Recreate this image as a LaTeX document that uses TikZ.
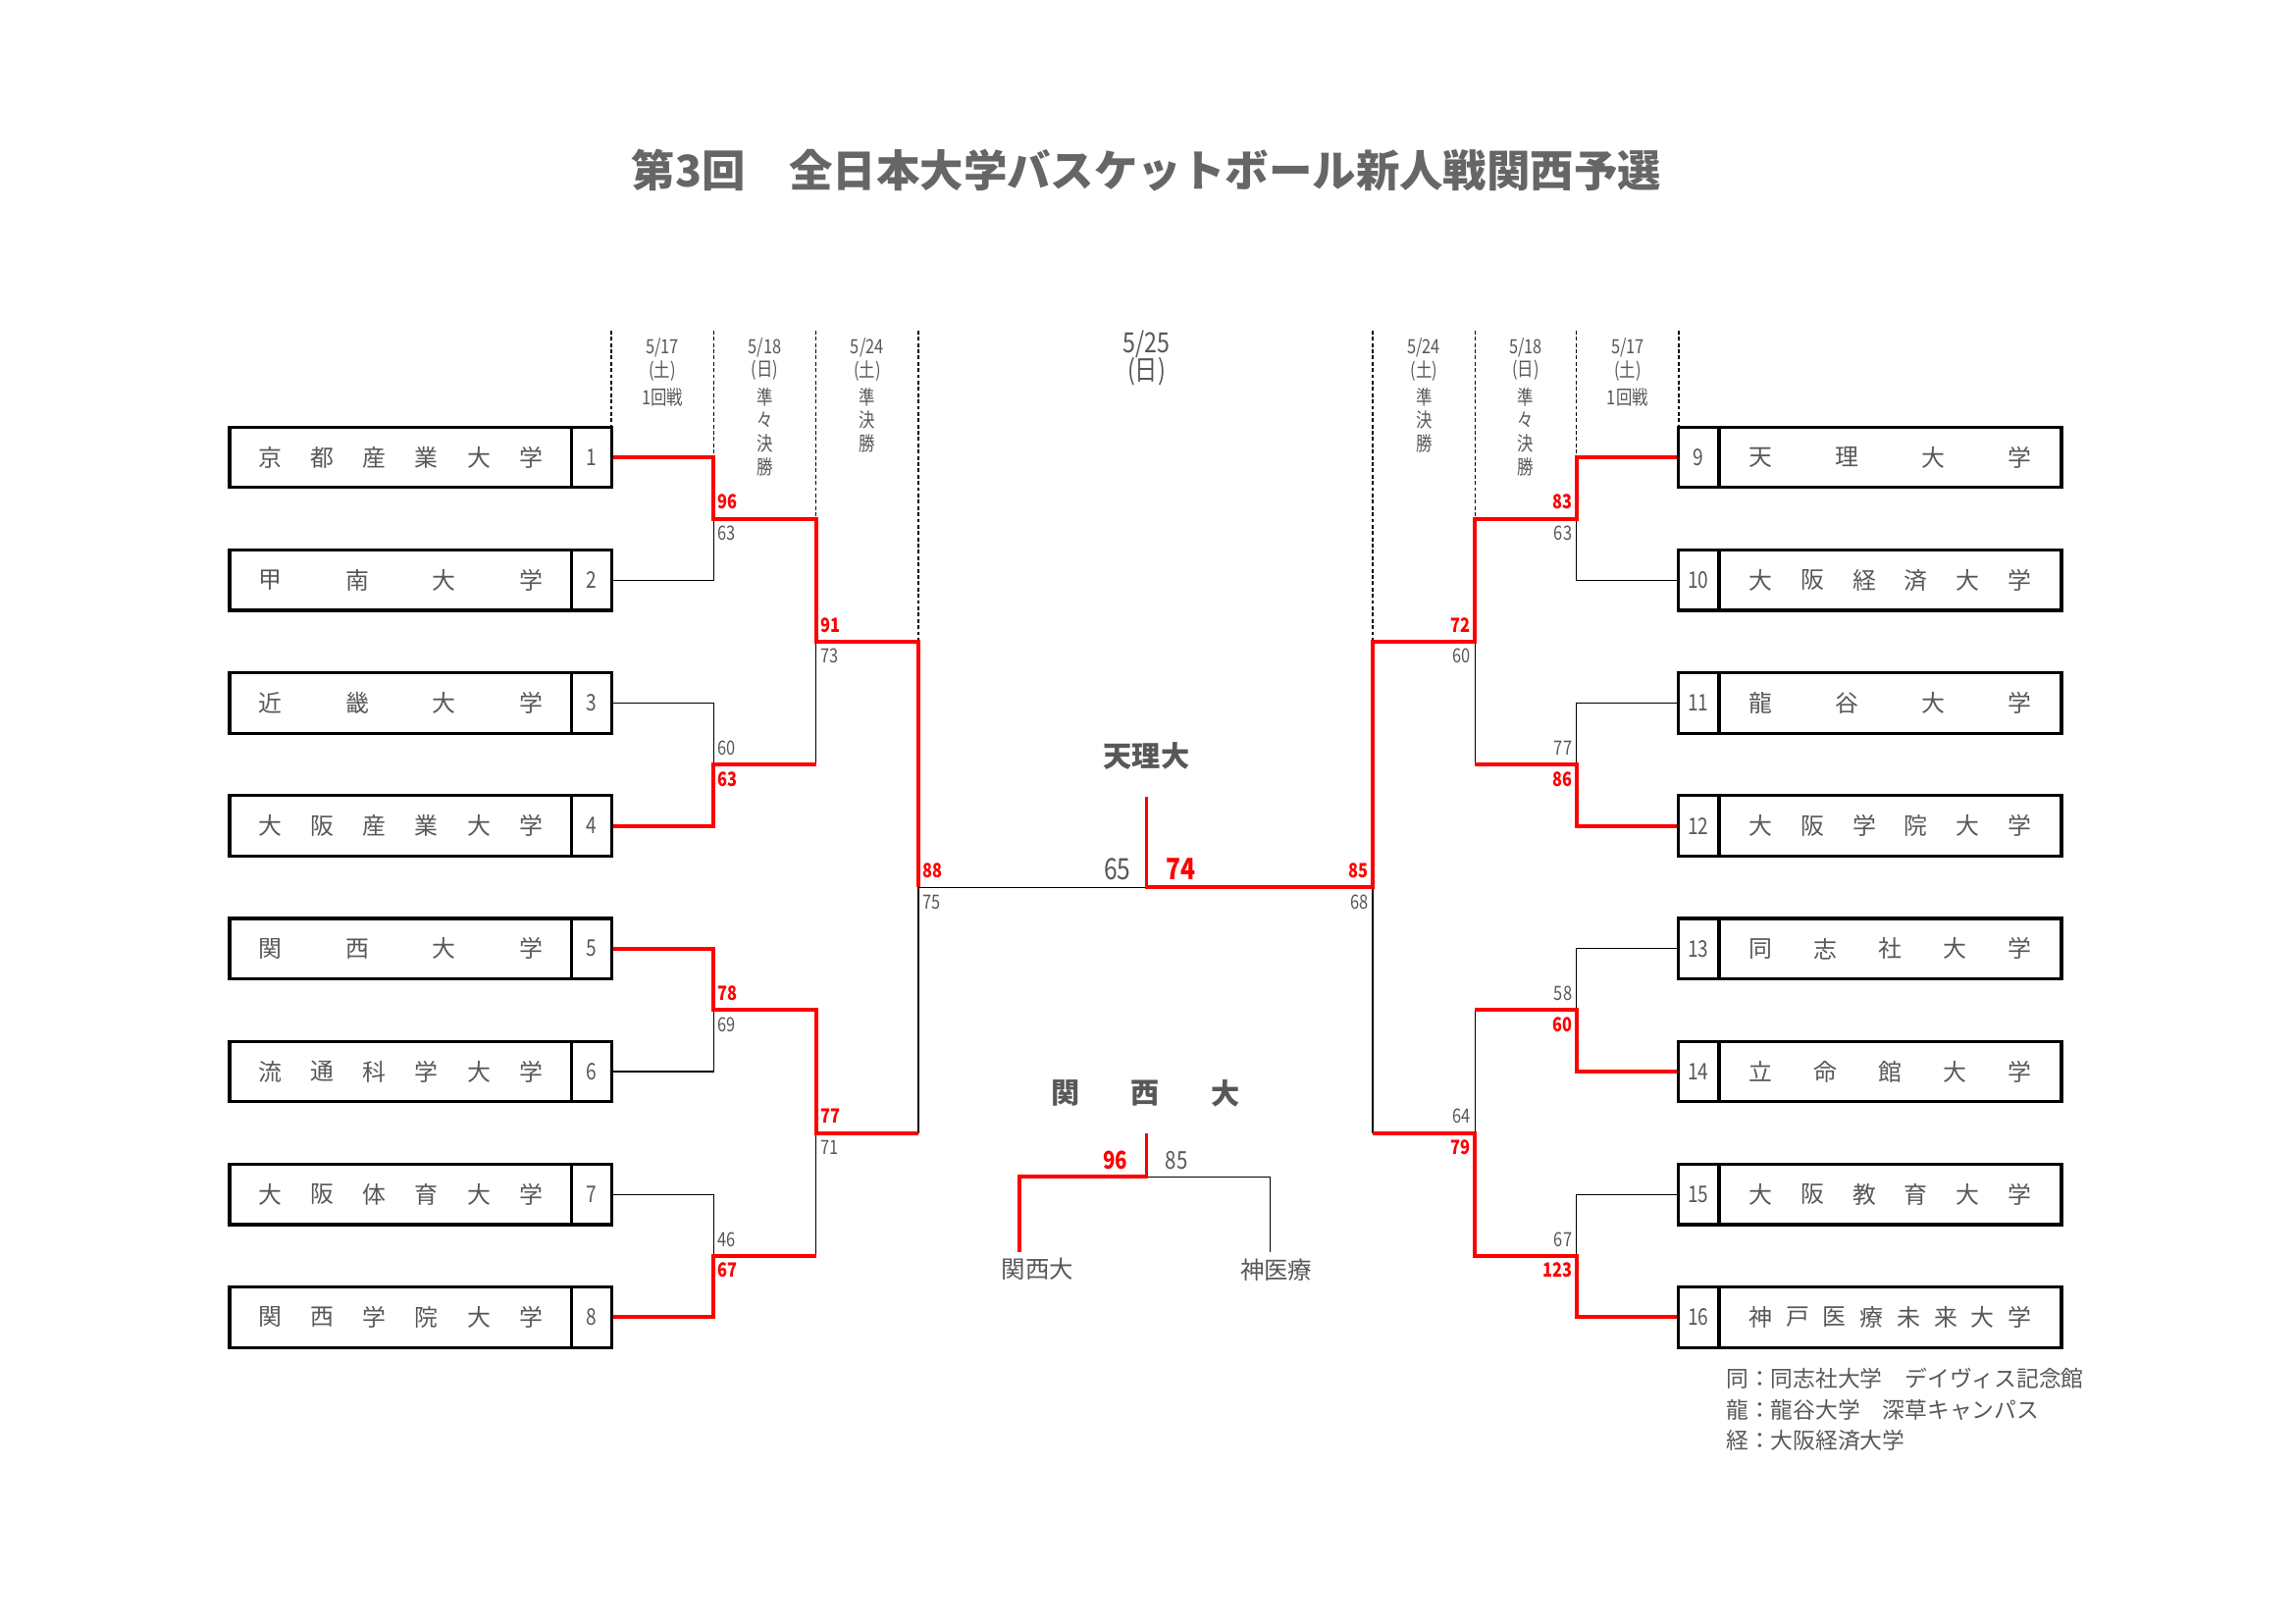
\documentclass[tikz,border=0pt]{standalone}
\usepackage{fontspec}
\setmainfont{Noto Sans CJK JP}
\newfontfamily\nar[FakeStretch=0.82]{Noto Sans CJK JP}
\definecolor{tgray}{RGB}{88,88,88}
\definecolor{ttl}{RGB}{102,102,102}
\definecolor{wred}{RGB}{255,0,0}
\tikzset{
  namebox/.style={draw, line width=1.15pt, minimum width=351*0.3577pt, minimum height=62*0.3577pt, inner sep=0pt},
  numbox/.style={draw, line width=1.15pt, minimum width=41*0.3577pt, minimum height=62*0.3577pt, inner sep=0pt, text=tgray, font=\nar\fontsize{8.4}{9}\selectfont},
  tname/.style={inner sep=0pt, text=tgray, font=\fontsize{8.6}{10}\selectfont},
  win/.style={draw=wred, line width=1.4pt},
  lose/.style={draw=black, line width=0.45pt},
  colline/.style={draw=black, line width=0.45pt, dash pattern=on 1.4pt off 0.9pt},
  hdr/.style={inner sep=0pt, text=tgray, font=\nar\fontsize{7.2}{8}\selectfont},
  sc/.style={inner sep=0pt, text=tgray, font=\nar\fontsize{7.2}{8}\selectfont},
  scw/.style={inner sep=0pt, text=wred, font=\nar\bfseries\fontsize{7.2}{8}\selectfont},
  title/.style={inner sep=0pt, text=ttl, font=\bfseries\fontsize{16}{18}\selectfont},
  big/.style={inner sep=0pt, text=tgray, font=\bfseries\fontsize{10.5}{12}\selectfont},
  note/.style={inner sep=0pt, text=tgray, anchor=west, font=\fontsize{8.2}{10}\selectfont},
}
\newcommand\spreadnames[6]{%
  \foreach \ch [count=\i] in #6 {%
    \node[tname] (#1c\i) at ({#2+(\i-1)*(#3-#2)/(#5-1)}, #4) {\ch};
  }%
}
\begin{document}
\begin{tikzpicture}[x=0.3577pt,y=-0.3577pt]
\useasboundingbox (0,0) rectangle (2354,1664.6);
\fill[white] (0,0) rectangle (2354,1664.6);

% title
\node[title] (title) at (1176,175) {第3回　全日本大学バスケットボール新人戦関西予選};

% ---------- left boxes ----------
\foreach \k/\n/\names [count=\r] in {1/6/{京,都,産,業,大,学},2/4/{甲,南,大,学},3/4/{近,畿,大,学},4/6/{大,阪,産,業,大,学},5/4/{関,西,大,学},6/6/{流,通,科,学,大,学},7/6/{大,阪,体,育,大,学},8/6/{関,西,学,院,大,学}} {
  \pgfmathsetmacro\yy{469+126*(\r-1)}
  \node[namebox] (L\k) at (411,\yy) {};
  \node[numbox] (N\k) at (607,\yy) {\k};
  \spreadnames{L\k}{277.5}{544.5}{\yy}{\n}{\names}
}
% ---------- right boxes ----------
\foreach \k/\n/\names [count=\r] in {9/4/{天,理,大,学},10/6/{大,阪,経,済,大,学},11/4/{龍,谷,大,学},12/6/{大,阪,学,院,大,学},13/5/{同,志,社,大,学},14/5/{立,命,館,大,学},15/6/{大,阪,教,育,大,学},16/8/{神,戸,医,療,未,来,大,学}} {
  \pgfmathsetmacro\yy{469+126*(\r-1)}
  \node[namebox] (R\k) at (1939,\yy) {};
  \node[numbox] (N\k) at (1742,\yy) {\k};
  \spreadnames{R\k}{1806}{2071.5}{\yy}{\n}{\names}
}

% ---------- match points ----------
\coordinate (m1) at (732,532);  \coordinate (m2) at (732,784);
\coordinate (m3) at (732,1036); \coordinate (m4) at (732,1288);
\coordinate (q1) at (837,658);  \coordinate (q2) at (837,1162);
\coordinate (s1) at (942,910);
\coordinate (m5) at (1617,532); \coordinate (m6) at (1617,784);
\coordinate (m7) at (1617,1036);\coordinate (m8) at (1617,1288);
\coordinate (q3) at (1513,658); \coordinate (q4) at (1513,1162);
\coordinate (s2) at (1408,910);
\coordinate (f) at (1176,910);
\coordinate (ftop) at (1176,817);

% ---------- column separators ----------
\coordinate (d1) at (627,339); \coordinate (d2) at (732,339);
\coordinate (d3) at (837,339); \coordinate (d4) at (942,339);
\coordinate (d5) at (1408,339); \coordinate (d6) at (1513,339);
\coordinate (d7) at (1617,339); \coordinate (d8) at (1722,339);
\draw[colline] (d1) -- (d1 |- N1.north);
\draw[colline] (d2) -- (d2 |- N1.east);
\draw[colline] (d3) -- (d3 |- m1);
\draw[colline] (d4) -- (d4 |- q1);
\draw[colline] (d5) -- (d5 |- q3);
\draw[colline] (d6) -- (d6 |- m5);
\draw[colline] (d7) -- (d7 |- N9.west);
\draw[colline] (d8) -- (d8 |- N9.north);

% ---------- column headers ----------
\node[hdr] (h1a) at (679.5,357) {5/17};
\node[hdr] (h1b) at (679.5,380) {(土)};
\node[hdr] (h1c) at (679.5,408) {1回戦};
\node[hdr] (h2a) at (784.5,357) {5/18};
\node[hdr] (h2b) at (784.5,380) {(日)};
\node[hdr] (h2c) at (784.5,407) {準};
\node[hdr] (h2d) at (784.5,431) {々};
\node[hdr] (h2e) at (784.5,455) {決};
\node[hdr] (h2f) at (784.5,479) {勝};
\node[hdr] (h3a) at (889.5,357) {5/24};
\node[hdr] (h3b) at (889.5,380) {(土)};
\node[hdr] (h3c) at (889.5,407) {準};
\node[hdr] (h3d) at (889.5,431) {決};
\node[hdr] (h3e) at (889.5,455) {勝};
\node[hdr, font=\nar\fontsize{10.2}{11}\selectfont] (hfa) at (1176,353) {5/25};
\node[hdr, font=\nar\fontsize{10.2}{11}\selectfont] (hfb) at (1176,381) {(日)};
\node[hdr] (h4a) at (1460.5,357) {5/24};
\node[hdr] (h4b) at (1460.5,380) {(土)};
\node[hdr] (h4c) at (1460.5,407) {準};
\node[hdr] (h4d) at (1460.5,431) {決};
\node[hdr] (h4e) at (1460.5,455) {勝};
\node[hdr] (h5a) at (1565,357) {5/18};
\node[hdr] (h5b) at (1565,380) {(日)};
\node[hdr] (h5c) at (1565,407) {準};
\node[hdr] (h5d) at (1565,431) {々};
\node[hdr] (h5e) at (1565,455) {決};
\node[hdr] (h5f) at (1565,479) {勝};
\node[hdr] (h6a) at (1669.5,357) {5/17};
\node[hdr] (h6b) at (1669.5,380) {(土)};
\node[hdr] (h6c) at (1669.5,408) {1回戦};

% ---------- left bracket ----------
\draw[lose] (N2.east) -| (m1);
\draw[lose] (N3.east) -| (m2);
\draw[lose] (N6.east) -| (m3);
\draw[lose] (N7.east) -| (m4);
\draw[lose] (m2 -| q1) -- (q1);
\draw[lose] (m4 -| q2) -- (q2);
\draw[lose] (q2 -| s1) -- (s1);
\draw[lose] (s1) -- (f);
\draw[win] (N1.east) -| (m1) -| (q1) -| (s1);
\draw[win] (N4.east) -| (m2) -- (m2 -| q1);
\draw[win] (N5.east) -| (m3) -| (q2) -- (q2 -| s1);
\draw[win] (N8.east) -| (m4) -- (m4 -| q2);

% ---------- right bracket ----------
\draw[lose] (N10.west) -| (m5);
\draw[lose] (N11.west) -| (m6);
\draw[lose] (N13.west) -| (m7);
\draw[lose] (N15.west) -| (m8);
\draw[lose] (m6 -| q3) -- (q3);
\draw[lose] (m7 -| q4) -- (q4);
\draw[lose] (q4 -| s2) -- (s2);
\draw[win] (N9.west) -| (m5) -| (q3) -| (s2) -- (f) -- (ftop);
\draw[win] (N12.west) -| (m6) -- (m6 -| q3);
\draw[win] (N14.west) -| (m7) -- (m7 -| q4);
\draw[win] (N16.west) -| (m8) -| (q4) -- (q4 -| s2);

% ---------- scores left ----------
\node[scw, anchor=west] (sa1) at (736,515) {96};
\node[sc,  anchor=west] (sa2) at (736,547) {63};
\node[sc,  anchor=west] (sb1) at (736,767) {60};
\node[scw, anchor=west] (sb2) at (736,799) {63};
\node[scw, anchor=west] (sc1) at (736,1019) {78};
\node[sc,  anchor=west] (sc2) at (736,1051) {69};
\node[sc,  anchor=west] (sd1) at (736,1271) {46};
\node[scw, anchor=west] (sd2) at (736,1303) {67};
\node[scw, anchor=west] (se1) at (841,641) {91};
\node[sc,  anchor=west] (se2) at (841,673) {73};
\node[scw, anchor=west] (sf1) at (841,1145) {77};
\node[sc,  anchor=west] (sf2) at (841,1177) {71};
\node[scw, anchor=west] (sg1) at (946,893) {88};
\node[sc,  anchor=west] (sg2) at (946,925) {75};
% ---------- scores right ----------
\node[scw, anchor=east] (ta1) at (1613,515) {83};
\node[sc,  anchor=east] (ta2) at (1613,547) {63};
\node[sc,  anchor=east] (tb1) at (1613,767) {77};
\node[scw, anchor=east] (tb2) at (1613,799) {86};
\node[sc,  anchor=east] (tc1) at (1613,1019) {58};
\node[scw, anchor=east] (tc2) at (1613,1051) {60};
\node[sc,  anchor=east] (td1) at (1613,1271) {67};
\node[scw, anchor=east] (td2) at (1613,1303) {123};
\node[scw, anchor=east] (te1) at (1509,641) {72};
\node[sc,  anchor=east] (te2) at (1509,673) {60};
\node[sc,  anchor=east] (tf1) at (1509,1145) {64};
\node[scw, anchor=east] (tf2) at (1509,1177) {79};
\node[scw, anchor=east] (tg1) at (1404,893) {85};
\node[sc,  anchor=east] (tg2) at (1404,925) {68};

% ---------- final ----------
\node[big] (champ) at (1176,775) {天理大};
\node[sc, font=\nar\fontsize{10.8}{12}\selectfont] (fl) at (1146,891) {65};
\node[scw, font=\nar\bfseries\fontsize{10.8}{12}\selectfont] (fr) at (1211,891) {74};

% ---------- third place ----------
\node[big] (tp1) at (1093,1121) {関};
\node[big] (tp2) at (1175,1121) {西};
\node[big] (tp3) at (1257,1121) {大};
\coordinate (t0) at (1176,1162);
\coordinate (tj) at (1176,1207);
\coordinate (tl) at (1046,1284);
\coordinate (tr) at (1303,1284);
\draw[lose] (tj) -| (tr);
\draw[win] (t0) -- (tj) -| (tl);
\node[scw, font=\nar\bfseries\fontsize{9}{10}\selectfont] (ts1) at (1144,1190) {96};
\node[sc, font=\nar\fontsize{9}{10}\selectfont] (ts2) at (1207,1190) {85};
\node[tname, font=\fontsize{8.8}{10}\selectfont] (tlab1) at (1064,1302) {関西大};
\node[tname, font=\fontsize{8.8}{10}\selectfont] (tlab2) at (1309,1302) {神医療};

% ---------- notes ----------
\node[note] (n1) at (1770,1414) {同：同志社大学　デイヴィス記念館};
\node[note] (n2) at (1770,1446) {龍：龍谷大学　深草キャンパス};
\node[note] (n3) at (1770,1477) {経：大阪経済大学};
\end{tikzpicture}
\end{document}
